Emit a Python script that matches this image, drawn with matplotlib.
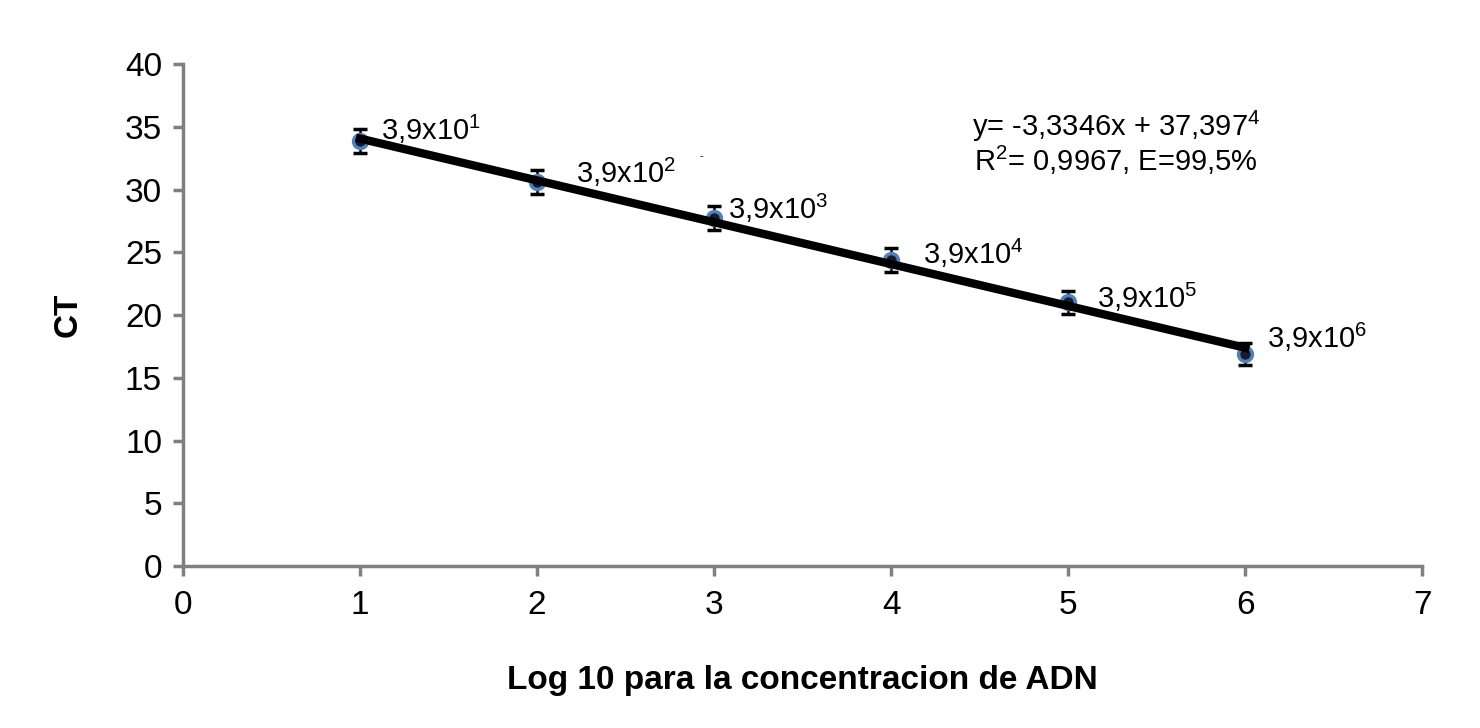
import matplotlib
matplotlib.use('Agg')
import matplotlib.pyplot as plt

plt.rcParams['font.family'] = ['Liberation Sans', 'DejaVu Sans']
plt.rcParams['mathtext.fontset'] = 'custom'
plt.rcParams['mathtext.rm'] = 'Liberation Sans'
plt.rcParams['mathtext.it'] = 'Liberation Sans'

log_conc = [1, 2, 3, 4, 5, 6]
ct_values = [33.9, 30.6, 27.7, 24.4, 21.0, 16.9]
ct_err = [0.95, 0.95, 0.95, 0.95, 0.95, 0.9]
point_labels = ['3,9x10$^{1}$', '3,9x10$^{2}$', '3,9x10$^{3}$',
                '3,9x10$^{4}$', '3,9x10$^{5}$', '3,9x10$^{6}$']
label_offsets = [(0.12, 0.9), (0.22, 0.8), (0.08, 0.8), (0.18, 0.5), (0.16, 0.4), (0.12, 1.3)]
slope = -3.3346
intercept = 37.3974

fig = plt.figure(figsize=(14.8, 7.28), dpi=100)
ax = fig.add_axes([0.1236, 0.2225, 0.8375, 0.6895])

ax.errorbar(log_conc, ct_values, yerr=ct_err, fmt='o', color='black',
            markerfacecolor='#1a1a2e', markeredgecolor='#4f81bd', markersize=10,
            markeredgewidth=2.5, ecolor='black', elinewidth=1.8, capsize=5,
            capthick=2.2, zorder=3)

fit_x = [log_conc[0], log_conc[-1]]
fit_y = [slope * v + intercept for v in fit_x]
ax.plot(fit_x, fit_y, color='black', linewidth=6, zorder=4)

for xv, yv, lab, off in zip(log_conc, ct_values, point_labels, label_offsets):
    ax.text(xv + off[0], yv + off[1], lab, fontsize=21, va='center', ha='left', zorder=5)

ax.text(5.27, 35.0, 'y= -3,3346x + 37,397$^{4}$', fontsize=21, ha='center', va='center')
ax.text(5.27, 32.3, 'R$^{2}$= 0,9967, E=99,5%', fontsize=21, ha='center', va='center')
ax.text(2.93, 32.7, '-', fontsize=8, ha='center', va='center')

ax.set_xlim(0, 7)
ax.set_ylim(0, 40)
ax.set_xticks(range(0, 8))
ax.set_yticks(range(0, 41, 5))
ax.tick_params(labelsize=24, color='#808080', width=2.5, length=7, direction='out')
ax.tick_params(axis='x', pad=10)
ax.tick_params(axis='y', pad=8)

for side in ['top', 'right']:
    ax.spines[side].set_visible(False)
for side in ['left', 'bottom']:
    ax.spines[side].set_color('#808080')
    ax.spines[side].set_linewidth(2.5)

ax.set_xlabel('Log 10 para la concentracion de ADN', fontsize=24, fontweight='bold', labelpad=32)
ax.set_ylabel('CT', fontsize=24, fontweight='bold', labelpad=30)

plt.savefig('out.png', dpi=100)
plt.close()
